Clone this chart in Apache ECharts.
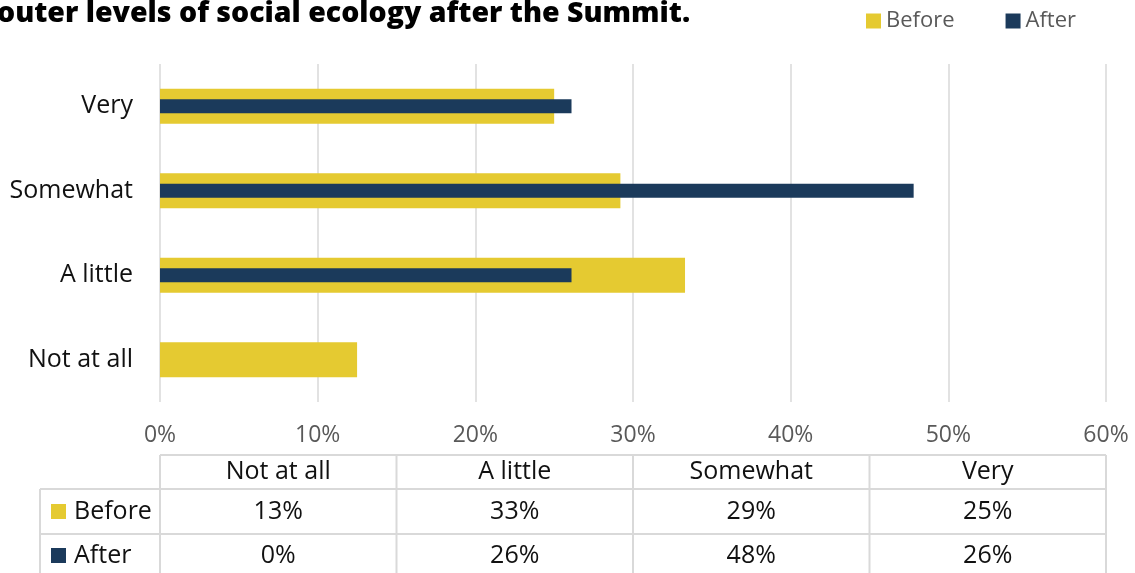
<!DOCTYPE html>
<html>
<head>
<meta charset="utf-8">
<script src="https://cdn.jsdelivr.net/npm/echarts@6/dist/echarts.min.js"></script>
<style>
  html, body { margin: 0; padding: 0; background: #ffffff; }
  #chart { width: 1135px; height: 573px; }
</style>
</head>
<body>
<div id="chart"></div>
<script>
// Survey shares by response level, before and after the Summit
const categories = ['Not at all', 'A little', 'Somewhat', 'Very'];
const beforeValues = [12.5, 33.3, 29.2, 25.0];
const afterValues = [0, 26.1, 47.8, 26.1];
const seriesNames = ['Before', 'After'];
const xTickStep = 10;
const xMax = 60;
const titleText = 'outer levels of social ecology after the Summit.';

const COLORS = { before: '#E5CA31', after: '#1B3A5B' };
const FONT = '"Open Sans", "Noto Sans", sans-serif';
const GRID = { left: 160, right: 29, top: 64, bottom: 171 };
const W = 1135, H = 573;

const pct = v => Math.round(v) + '%';

const chart = echarts.init(document.getElementById('chart'), null, { renderer: 'canvas' });

// Data table under the axis: header row of categories, then one row per series
function buildTable() {
  const x0 = GRID.left, x1 = W - GRID.right;
  const colW = (x1 - x0) / categories.length;
  const lineStyle = { stroke: '#D9D9D9', lineWidth: 2 };
  const rowTop = [455, 489, 534, 580];
  const labelLeft = 40;
  const els = [];
  const line = (ax, ay, bx, by) => els.push({
    type: 'line', silent: true,
    shape: { x1: ax, y1: ay, x2: bx, y2: by }, style: lineStyle
  });
  // horizontal rules
  line(x0, rowTop[0], x1, rowTop[0]);
  line(labelLeft, rowTop[1], x1, rowTop[1]);
  line(labelLeft, rowTop[2], x1, rowTop[2]);
  line(labelLeft, rowTop[3], x1, rowTop[3]);
  // vertical rules
  line(labelLeft, rowTop[1], labelLeft, rowTop[3]);
  for (let i = 0; i <= categories.length; i++) {
    const x = x0 + colW * i;
    line(x, rowTop[0], x, rowTop[3]);
  }
  const txt = (s, x, y, align) => els.push({
    type: 'text', silent: true, x: x, y: y,
    style: { text: s, fill: '#111111', font: '400 25px ' + FONT, align: align || 'center', verticalAlign: 'middle' }
  });
  categories.forEach((c, i) => {
    const cx = x0 + colW * (i + 0.5);
    txt(c, cx, 472);
    txt(pct(beforeValues[i]), cx, 512);
    txt(pct(afterValues[i]), cx, 556);
  });
  // series keys in the row labels
  const rows = [
    { name: seriesNames[0], color: COLORS.before, y: 512 },
    { name: seriesNames[1], color: COLORS.after, y: 556 }
  ];
  rows.forEach(r => {
    els.push({ type: 'rect', silent: true, shape: { x: 51, y: r.y - 8, width: 15, height: 15 }, style: { fill: r.color } });
    txt(r.name, 74, r.y, 'left');
  });
  // chart title (first line runs off the top-left)
  els.push({
    type: 'text', silent: true, x: -3, y: 14,
    style: { text: titleText, fill: '#000000', font: '800 28.5px ' + FONT, align: 'left', verticalAlign: 'middle' }
  });
  return els;
}

const yAxisBase = {
  type: 'category', data: categories,
  axisLine: { show: false }, axisTick: { show: false }
};

const option = {
  animation: false,
  backgroundColor: '#ffffff',
  textStyle: { fontFamily: FONT },
  legend: {
    data: seriesNames,
    left: 866, top: 10, padding: 0,
    icon: 'rect', itemWidth: 15, itemHeight: 15, itemGap: 51,
    textStyle: { fontSize: 22, color: '#595959', fontFamily: FONT }
  },
  grid: { left: GRID.left, right: GRID.right, top: GRID.top, bottom: GRID.bottom, containLabel: false },
  xAxis: {
    type: 'value', min: 0, max: xMax, interval: xTickStep,
    axisLine: { show: false }, axisTick: { show: false },
    splitLine: { show: true, lineStyle: { color: '#D9D9D9', width: 1.5 } },
    axisLabel: { formatter: v => v + '%', fontSize: 23, color: '#595959', margin: 22, fontFamily: FONT }
  },
  yAxis: [
    Object.assign({}, yAxisBase, {
      axisLabel: { fontSize: 25, color: '#111111', margin: 27, fontFamily: FONT }
    }),
    // twin axis so the narrow series sits centred over the wide one
    Object.assign({}, yAxisBase, { show: false, position: 'left' })
  ],
  series: [
    {
      name: seriesNames[0], type: 'bar', data: beforeValues, yAxisIndex: 0,
      barWidth: 35,
      itemStyle: { color: COLORS.before }, z: 2
    },
    {
      name: seriesNames[1], type: 'bar', data: afterValues, yAxisIndex: 1,
      barWidth: 14,
      itemStyle: { color: COLORS.after }, z: 3
    }
  ],
  graphic: { elements: buildTable() }
};

chart.setOption(option);
</script>
</body>
</html>
